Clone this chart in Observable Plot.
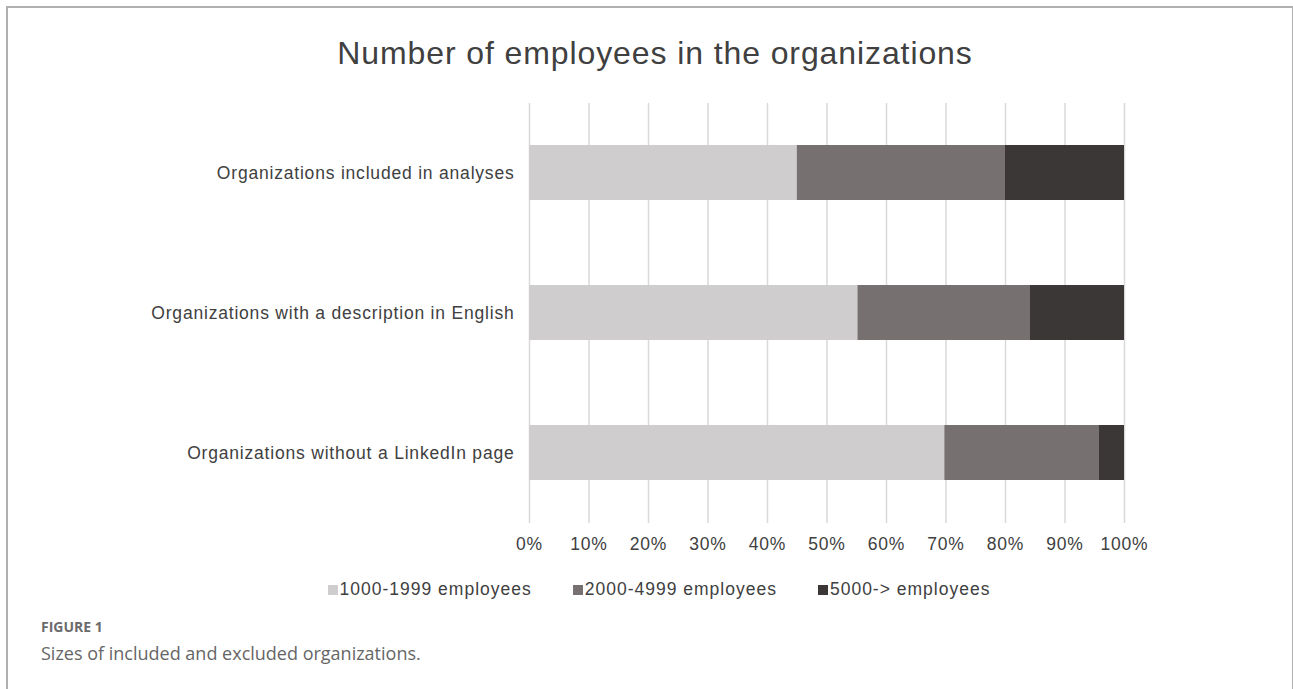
<!DOCTYPE html>
<html>
<head>
<meta charset="utf-8">
<script src="https://cdn.jsdelivr.net/npm/d3@7"></script>
<script src="https://cdn.jsdelivr.net/npm/@observablehq/plot@0.6"></script>
<style>
  html, body { margin: 0; padding: 0; background: #fff; width: 1293px; height: 689px; overflow: hidden; }
  #frame { position: absolute; left: 6px; top: 6px; width: 1284px; height: 700px;
           border-left: 2px solid #b0b0b0; border-top: 2px solid #b0b0b0; border-right: 2px solid #b0b0b0; }
  #title { position: absolute; left: 0; width: 1310px; top: 35px; text-align: center; letter-spacing: 0.9px;
           font-family: "Liberation Sans", Arial, sans-serif; font-size: 32px; color: #404040; }
  #chart { position: absolute; left: 0; top: 90px; }
  #legend { position: absolute; left: 0; width: 1318px; top: 579px; display: flex; justify-content: center; gap: 41px;
            font-family: "Liberation Sans", Arial, sans-serif; font-size: 17.5px; color: #404040; letter-spacing: 1px; }
  #legend .item { display: flex; align-items: center; }
  #legend .sw { width: 10px; height: 10px; margin-right: 2px; }
  #fig { position: absolute; left: 41px; top: 617px; font-family: "Open Sans", sans-serif; font-weight: 700;
         font-size: 14px; color: #6b6b6b; }
  #cap { position: absolute; left: 41px; top: 641px; font-family: "Open Sans", sans-serif;
         font-size: 18px; color: #666; }
</style>
</head>
<body>
<div id="frame"></div>
<div id="title">Number of employees in the organizations</div>
<div id="chart"></div>
<div id="legend"></div>
<div id="fig">FIGURE 1</div>
<div id="cap">Sizes of included and excluded organizations.</div>
<script>
const categories = [
  "Organizations included in analyses",
  "Organizations with a description in English",
  "Organizations without a LinkedIn page"
];
const sizeLabels = ["1000-1999 employees", "2000-4999 employees", "5000-> employees"];
const share1000 = [45.0, 55.2, 69.8];
const share2000 = [35.0, 29.0, 26.0];
const share5000 = [20.0, 15.8, 4.2];
const xTicks = [0, 10, 20, 30, 40, 50, 60, 70, 80, 90, 100];
const colors = ["#cfcdce", "#767070", "#3b3737"];

const series = [share1000, share2000, share5000];
const data = [];
categories.forEach((c, i) => {
  sizeLabels.forEach((s, j) => data.push({category: c, size: s, value: series[j][i]}));
});

const chart = Plot.plot({
  width: 1293,
  height: 473,
  marginLeft: 529,
  marginRight: 169,
  marginTop: 13,
  marginBottom: 40,
  style: {fontFamily: "'Liberation Sans', Arial, sans-serif", fontSize: "17.5px", color: "#404040", background: "transparent", letterSpacing: "0.8px"},
  x: {domain: [0, 100], ticks: xTicks, tickFormat: d => d + "%", label: null, tickSize: 0, tickPadding: 14},
  y: {domain: categories, paddingInner: 0.607, paddingOuter: 0.3035, label: null, tickSize: 0, tickPadding: 15},
  color: {domain: sizeLabels, range: colors},
  marks: [
    Plot.ruleX(xTicks, {stroke: "#d9d9d9", strokeWidth: 1.5}),
    Plot.barX(data, Plot.stackX({x: "value", y: "category", fill: "size", inset: 0}))
  ]
});
document.getElementById("chart").appendChild(chart);

const legend = document.getElementById("legend");
sizeLabels.forEach((s, j) => {
  const item = document.createElement("div");
  item.className = "item";
  const sw = document.createElement("div");
  sw.className = "sw";
  sw.style.background = colors[j];
  const t = document.createElement("span");
  t.textContent = s;
  item.appendChild(sw);
  item.appendChild(t);
  legend.appendChild(item);
});
</script>
</body>
</html>
